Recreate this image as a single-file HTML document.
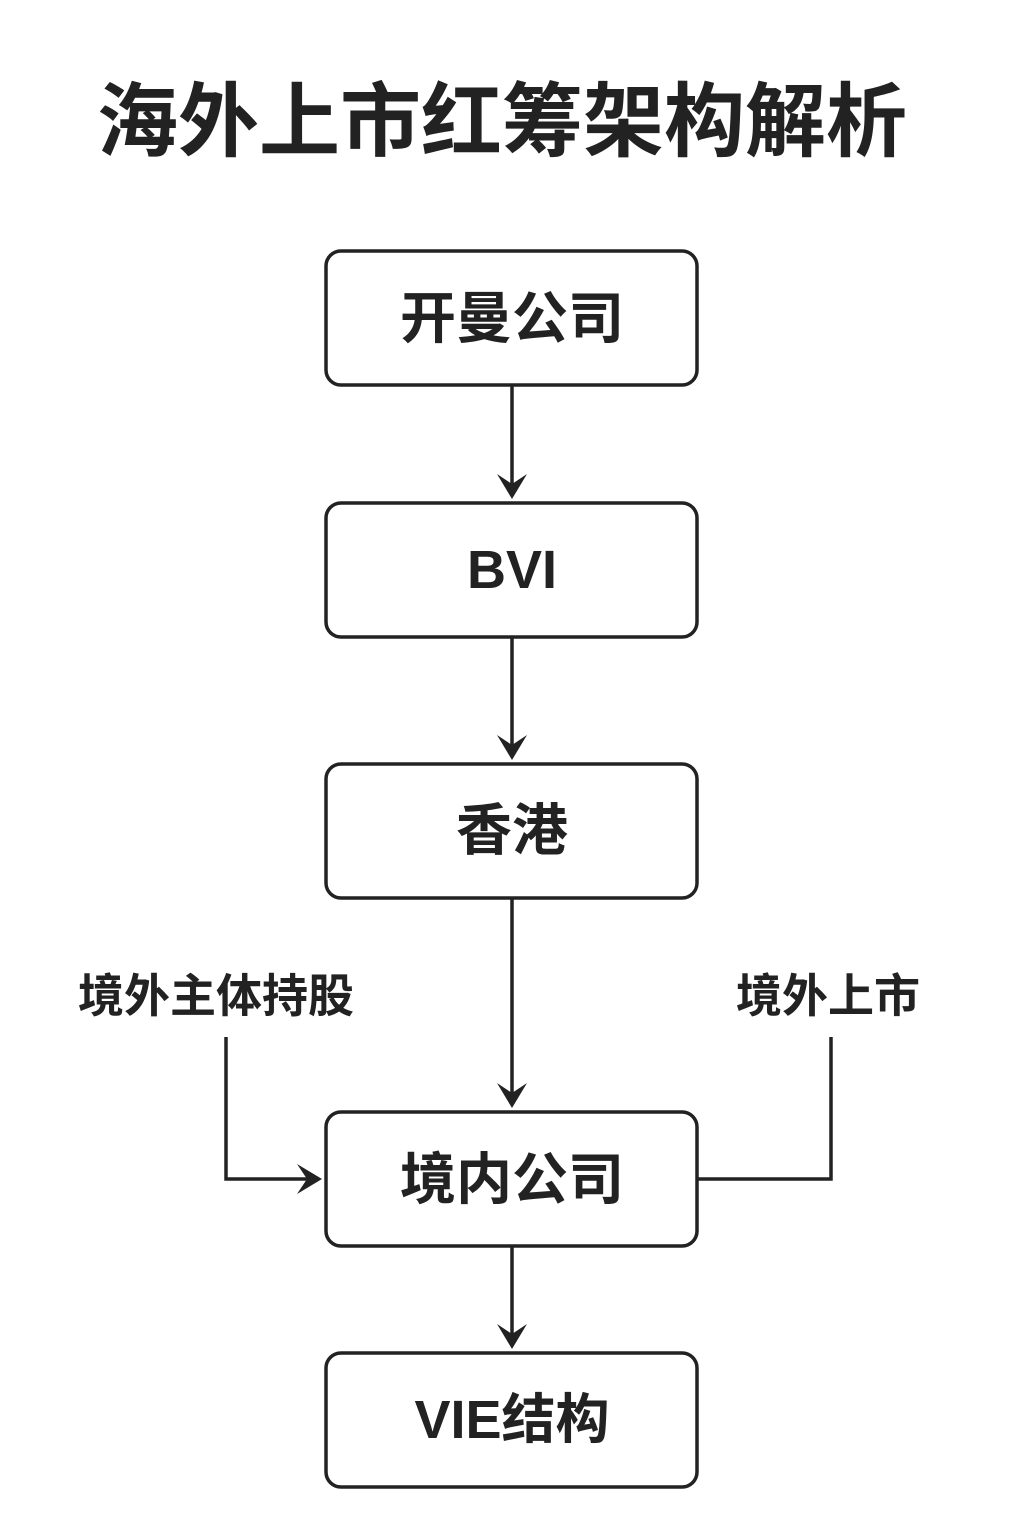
<!DOCTYPE html>
<html><head><meta charset="utf-8"><style>
html,body{margin:0;padding:0;background:#fff;}
svg{display:block;}
text{font-family:"Liberation Sans","Noto Sans CJK SC",sans-serif;font-weight:bold;fill:#222;}
</style></head><body>
<svg width="1024" height="1536" viewBox="0 0 1024 1536" xmlns="http://www.w3.org/2000/svg">
<defs>
<path id="ah" d="M0,0 L-15,-25 L0,-15 L15,-25 Z" fill="#222"/>
</defs>
<text x="502" y="150" font-size="81" text-anchor="middle">海外上市红筹架构解析</text>
<g fill="none" stroke="#222" stroke-width="3.5">
<rect x="326" y="251" width="371" height="134" rx="15"/>
<rect x="326" y="503" width="371" height="134" rx="15"/>
<rect x="326" y="764" width="371" height="134" rx="15"/>
<rect x="326" y="1112" width="371" height="134" rx="15"/>
<rect x="326" y="1353" width="371" height="134" rx="15"/>
<line x1="512" y1="385" x2="512" y2="492"/>
<line x1="512" y1="637" x2="512" y2="753"/>
<line x1="512" y1="898" x2="512" y2="1101"/>
<line x1="512" y1="1246" x2="512" y2="1342"/>
<polyline points="226,1037 226,1179 312,1179"/>
<polyline points="697,1179 831,1179 831,1037"/>
</g>
<use href="#ah" transform="translate(512,499)"/>
<use href="#ah" transform="translate(512,760)"/>
<use href="#ah" transform="translate(512,1108)"/>
<use href="#ah" transform="translate(512,1349)"/>
<use href="#ah" transform="translate(322,1179) rotate(-90)"/>
<text x="512" y="338" font-size="56" text-anchor="middle">开曼公司</text>
<text x="512" y="588" font-size="54" text-anchor="middle">BVI</text>
<text x="512" y="850" font-size="56" text-anchor="middle">香港</text>
<text x="512" y="1199" font-size="56" text-anchor="middle">境内公司</text>
<text x="512" y="1438" font-size="54" text-anchor="middle">VIE结构</text>
<text x="216" y="1012" font-size="46" text-anchor="middle">境外主体持股</text>
<text x="828" y="1012" font-size="46" text-anchor="middle">境外上市</text>
</svg>
</body></html>
